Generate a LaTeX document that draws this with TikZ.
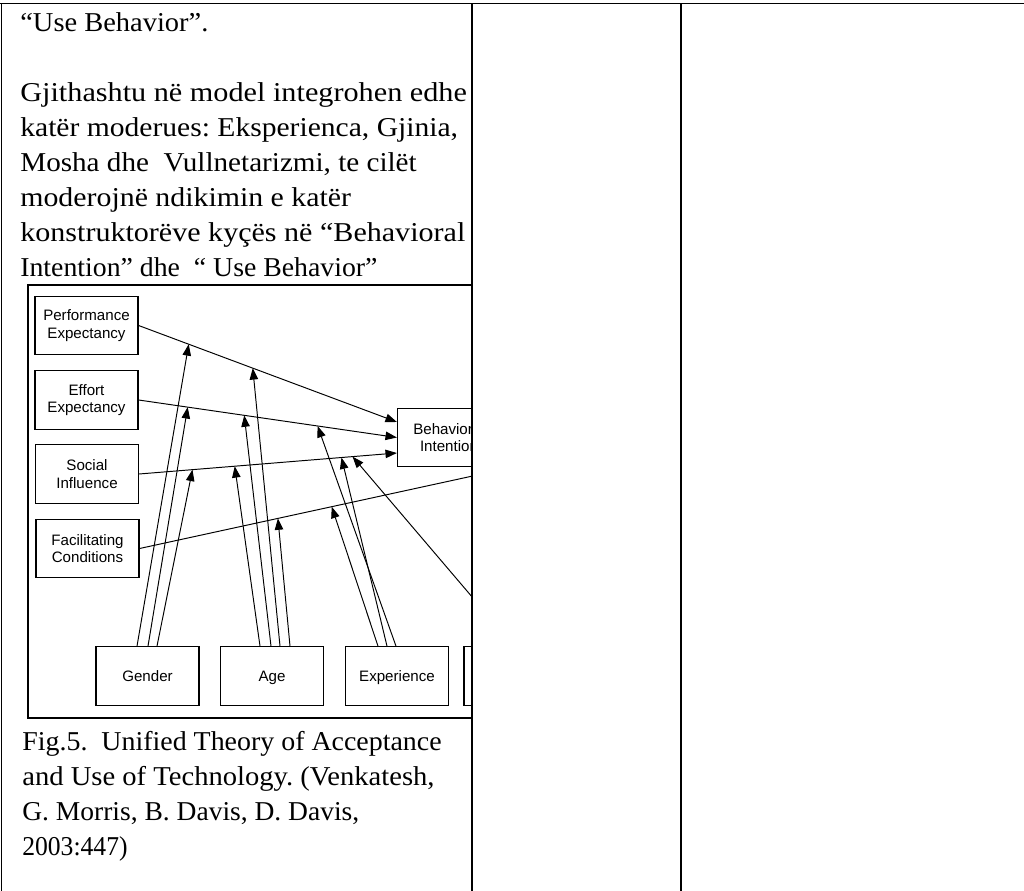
\documentclass[tikz,border=0pt]{standalone}
\usepackage{fontspec}
\setmainfont{Liberation Serif}
\setsansfont{Liberation Sans}
\usetikzlibrary{calc}
\usetikzlibrary{arrows.meta}
\frenchspacing

\begin{document}
\begin{tikzpicture}[x=0.02cm, y=-0.02cm,
    every node/.style={inner sep=0pt},
    txt/.style={anchor=base west, font=\fontsize{15.5}{19.8}\selectfont},
    box/.style={draw, line width=0.7pt, minimum width=2.06cm, minimum height=1.17cm,
      align=center, font=\sffamily\fontsize{8.6}{10}\selectfont},
    mod/.style={box, text height=8.4pt, text depth=1.8pt},
    arr/.style={-{Triangle[length=6.5pt,width=4.8pt]}, line width=0.55pt},
    rule/.style={line width=1.1pt}]
  \useasboundingbox (0,0) rectangle (1024,891);
  % text above the figure
  \node[txt] (t1) at (20,32) {\scalebox{1.045}[1]{“Use Behavior”.}};
  \node[txt] (t2) at (20,102) {\scalebox{1.11}[1]{Gjithashtu në model integrohen edhe}};
  \node[txt] (t3) at (20,137) {\scalebox{1.086}[1]{katër moderues: Eksperienca, Gjinia,}};
  \node[txt] (t4) at (20,172) {\scalebox{1.07}[1]{Mosha dhe \ Vullnetarizmi, te cilët}};
  \node[txt] (t5) at (20,207) {\scalebox{1.096}[1]{moderojnë ndikimin e katër}};
  \node[txt] (t6) at (20,242) {\scalebox{1.104}[1]{konstruktorëve kyçës në “Behavioral}};
  \node[txt] (t7) at (20,277) {\scalebox{1.02}[1]{Intention” dhe \ “ Use Behavior”}};
  % the figure, cut at the column rule
  \begin{scope}
    \clip (0,0) rectangle (472,891);
    \draw[line width=1.1pt] (28,285) rectangle (600,718);
    \node[box] (pe) at (86.5,325.5) {Performance\\Expectancy};
    \node[box] (ee) at (86.5,400) {Effort\\Expectancy};
    \node[box] (si) at (87,474) {Social\\Influence};
    \node[box] (fc) at (87.5,548.5) {Facilitating\\Conditions};
    \node[box] (bi) at (449,437.5) {Behavioral\\Intention};
    \node[mod] (gender) at (147.5,676) {Gender};
    \node[mod] (age) at (272,676) {Age};
    \node[mod] (exp) at (397,676) {Experience};
    \node[mod] (vol) at (515.5,676) {};
    \coordinate (bi1) at ($(bi.west)+(0,-15.5)$);
    \coordinate (bi3) at ($(bi.west)+(0,15.5)$);
    \coordinate (ub) at (560,457);
    \draw[arr] (pe.east) -- (bi1);
    \draw[arr] (ee.east) -- (bi.west);
    \draw[arr] (si.east) -- (bi3);
    \draw[arr] (fc.east) -- (ub);
    \coordinate (pe-g) at ($(pe.east)!0.194!(bi1)$);
    \coordinate (pe-a) at ($(pe.east)!0.442!(bi1)$);
    \coordinate (ee-g) at ($(ee.east)!0.19!(bi.west)$);
    \coordinate (ee-a) at ($(ee.east)!0.409!(bi.west)$);
    \coordinate (ee-x) at ($(ee.east)!0.693!(bi.west)$);
    \coordinate (si-g) at ($(si.east)!0.207!(bi3)$);
    \coordinate (si-a) at ($(si.east)!0.371!(bi3)$);
    \coordinate (si-x) at ($(si.east)!0.785!(bi3)$);
    \coordinate (si-v) at ($(si.east)!0.828!(bi3)$);
    \coordinate (fc-a) at ($(fc.east)!0.329!(ub)$);
    \coordinate (fc-x) at ($(fc.east)!0.457!(ub)$);
    \draw[arr] ($(gender.north)+(-10.5,0)$) -- (pe-g);
    \draw[arr] ($(gender.north)+(0.5,0)$) -- (ee-g);
    \draw[arr] ($(gender.north)+(9.5,0)$) -- (si-g);
    \draw[arr] ($(age.north)+(-12,0)$) -- (si-a);
    \draw[arr] ($(age.north)+(-1,0)$) -- (ee-a);
    \draw[arr] ($(age.north)+(8,0)$) -- (pe-a);
    \draw[arr] ($(age.north)+(18,0)$) -- (fc-a);
    \draw[arr] ($(exp.north)+(-19,0)$) -- (fc-x);
    \draw[arr] ($(exp.north)+(-10,0)$) -- (si-x);
    \draw[arr] ($(exp.north)+(-1,0)$) -- (ee-x);
    \draw[arr] ($(vol.north)+(-1.5,0)$) -- (si-v);
  \end{scope}
  % caption
  \node[txt] (c1) at (22,750) {\scalebox{1.025}[1]{Fig.5. \ Unified Theory of Acceptance}};
  \node[txt] (c2) at (22,785) {\scalebox{1.05}[1]{and Use of Technology. (Venkatesh,}};
  \node[txt] (c3) at (22,820) {\scalebox{1.01}[1]{G. Morris, B. Davis, D. Davis,}};
  \node[txt] (c4) at (22,855) {\scalebox{0.94}[1]{2003:447)}};
  % table rules
  \draw[rule] (0,3.5) -- (1024,3.5);
  \draw[rule] (1.5,3.5) -- (1.5,891);
  \draw[rule] (472,3.5) -- (472,891);
  \draw[rule] (681,3.5) -- (681,891);
\end{tikzpicture}
\end{document}
